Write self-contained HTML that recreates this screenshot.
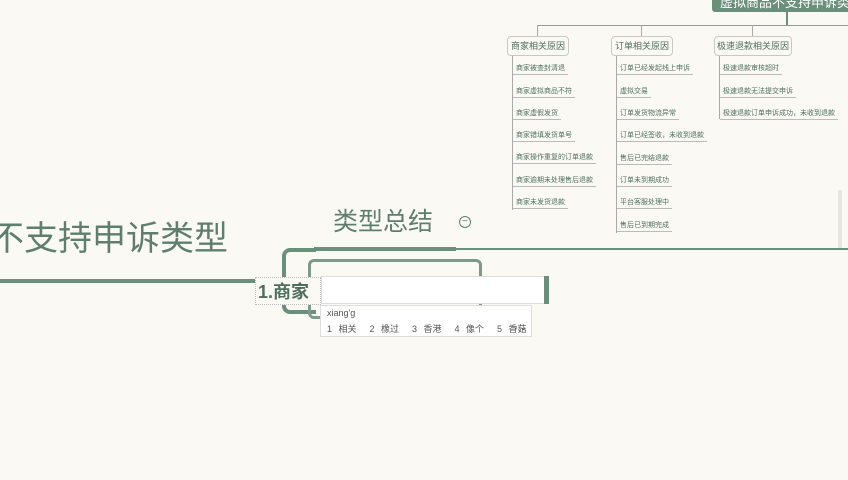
<!DOCTYPE html>
<html><head><meta charset="utf-8"><style>
body{margin:0;width:848px;height:480px;overflow:hidden;background:#fbf9f4;font-family:"Liberation Sans","Noto Sans CJK SC",sans-serif;position:relative}
.a{position:absolute}
.box{position:absolute;border:1px solid #c9c9c4;border-radius:4px;background:#fbf9f4;font-size:9px;color:#4f6f5e;text-align:center;line-height:18px}
.it{position:absolute;font-size:7px;color:#4f6f5e;border-bottom:1px solid #bbb;padding:0 3px;line-height:10px;white-space:nowrap}
.vl{position:absolute;width:1px;background:#aaa}
</style></head><body>
<div class="a" style="left:712px;top:-6px;width:136px;height:18px;background:#6a8f7a;border-radius:3px;color:#fff;font-size:13px;line-height:18px;padding-left:8px;white-space:nowrap">虚拟商品不支持申诉类</div>
<div class="a" style="left:786px;top:12px;width:2px;height:13px;background:#6a8f7a"></div>
<div class="a" style="left:537px;top:25px;width:311px;height:1px;background:#999"></div>
<div class="vl" style="left:537px;top:25px;height:11px"></div>
<div class="vl" style="left:641px;top:25px;height:11px"></div>
<div class="vl" style="left:752px;top:25px;height:11px"></div>
<div class="box" style="left:507px;top:36px;width:60px">商家相关原因</div>
<div class="box" style="left:611px;top:36px;width:60px">订单相关原因</div>
<div class="box" style="left:714px;top:36px;width:76px">极速退款相关原因</div>
<div class="vl" style="left:512px;top:56px;height:154px"></div>
<div class="vl" style="left:616px;top:56px;height:177px"></div>
<div class="vl" style="left:719px;top:56px;height:63px"></div>
<div class="it" style="left:513px;top:64px">商家被查封清退</div>
<div class="it" style="left:513px;top:87px">商家虚拟商品不符</div>
<div class="it" style="left:513px;top:109px">商家虚假发货</div>
<div class="it" style="left:513px;top:131px">商家错填发货单号</div>
<div class="it" style="left:513px;top:153px">商家操作重复的订单退款</div>
<div class="it" style="left:513px;top:176px">商家逾期未处理售后退款</div>
<div class="it" style="left:513px;top:198px">商家未发货退款</div>
<div class="it" style="left:617px;top:64px">订单已经发起线上申诉</div>
<div class="it" style="left:617px;top:87px">虚拟交易</div>
<div class="it" style="left:617px;top:109px">订单发货物流异常</div>
<div class="it" style="left:617px;top:131px">订单已经签收，未收到退款</div>
<div class="it" style="left:617px;top:154px">售后已完结退款</div>
<div class="it" style="left:617px;top:176px">订单未到期成功</div>
<div class="it" style="left:617px;top:198px">平台客服处理中</div>
<div class="it" style="left:617px;top:221px">售后已到期完成</div>
<div class="it" style="left:720px;top:64px">极速退款审核超时</div>
<div class="it" style="left:720px;top:87px">极速退款无法提交申诉</div>
<div class="it" style="left:720px;top:109px">极速退款订单申诉成功，未收到退款</div>
<div class="a" style="left:838px;top:190px;width:4px;height:58px;background:#e6e5e0"></div>

<div class="a" style="left:-10px;top:216px;font-size:34px;color:#5f7f6d;white-space:nowrap;line-height:46px">不支持申诉类型</div>
<div class="a" style="left:0;top:279px;width:256px;height:4px;background:#6a8f7a"></div>
<div class="a" style="left:333px;top:205px;font-size:25px;color:#5f7f6d;line-height:34px">类型总结</div>
<div class="a" style="left:459px;top:216px;width:10px;height:10px;border:1px solid #5f7f6d;border-radius:50%;font-size:10px;line-height:9px;text-align:center;color:#5f7f6d">−</div>
<div class="a" style="left:314px;top:247px;width:142px;height:4px;background:#6a8f7a"></div>
<div class="a" style="left:456px;top:248px;width:392px;height:2px;background:#6a8f7a"></div>
<div class="a" style="left:282px;top:248px;width:34px;height:66px;border:4px solid #6a8f7a;border-right:none;border-radius:8px 0 0 8px;box-sizing:border-box"></div>
<div class="a" style="left:308px;top:259px;width:174px;height:60px;border:3px solid #7d9a8a;border-radius:6px;box-sizing:border-box"></div>
<div class="a" style="left:255px;top:277px;width:66px;height:28px;background:#fbf9f4;border:1px dotted #bbb;box-sizing:border-box;font-size:18px;color:#4f6f5e;font-weight:bold;line-height:28px;padding-left:2px">1.商家</div>
<div class="a" style="left:321px;top:276px;width:226px;height:28px;background:#fff;border:1px solid #ddd;box-sizing:border-box"></div>
<div class="a" style="left:544px;top:276px;width:5px;height:28px;background:#6a8f7a"></div>
<div class="a" style="left:320px;top:305px;width:212px;height:32px;background:#fff;border:1px solid #ddd;box-sizing:border-box;font-size:9px;color:#555">
<div style="position:absolute;left:6px;top:2px">xiang'g</div>
<div style="position:absolute;left:6px;top:16px;white-space:nowrap;word-spacing:4px">1 相关 &nbsp;2 橡过 &nbsp;3 香港 &nbsp;4 像个 &nbsp;5 香菇</div>
<div style="position:absolute;right:4px;top:16px">› ⌄</div></div>
</body></html>
